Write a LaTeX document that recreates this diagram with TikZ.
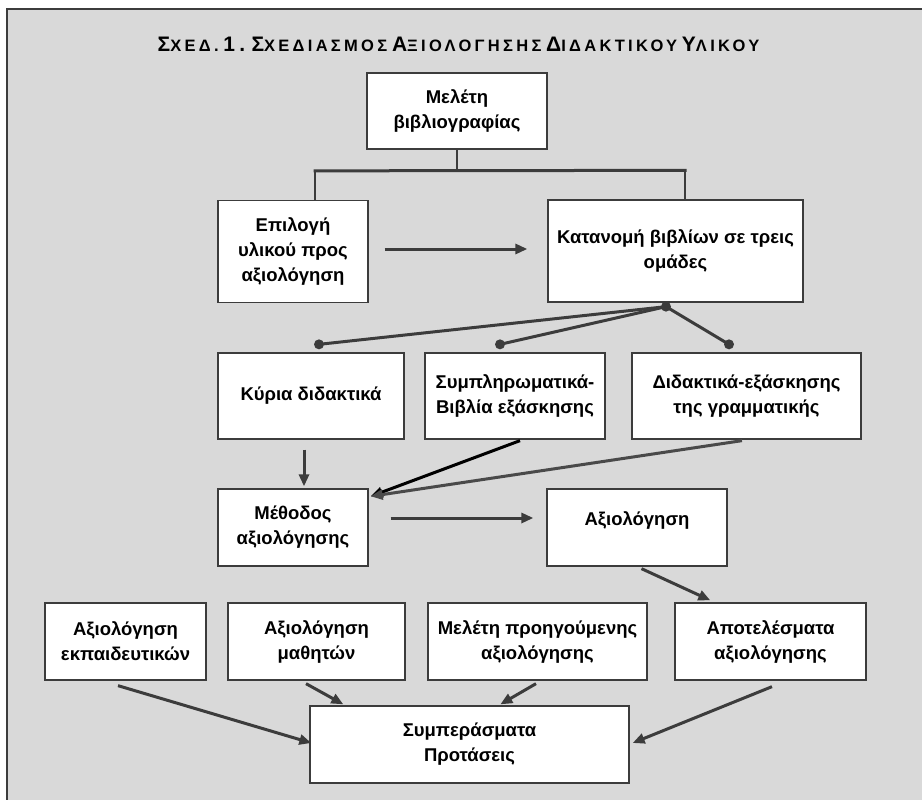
\documentclass[tikz,border=0pt]{standalone}
\usepackage{fontspec}
\setmainfont{Liberation Sans}
\newfontfamily\ttlfont[LetterSpace=20]{Liberation Sans}
\usetikzlibrary{arrows.meta,calc}
\definecolor{bg}{HTML}{D9D9D9}
\definecolor{ln}{HTML}{3C3C3C}
\definecolor{lngray}{HTML}{4A4A4A}
\newcommand\tbg[1]{{\fontsize{21}{21}\selectfont #1}}
\newcommand\tsm[1]{{\fontsize{16.5}{16.5}\selectfont #1}}
\tikzset{
  box/.style={draw=ln, line width=1.3pt, fill=white, inner sep=0pt, align=center,
    font=\fontsize{18.5}{25}\selectfont\bfseries},
  conn/.style={draw=ln, line width=3pt},
  arr/.style={conn, -{Triangle[length=12pt,width=10pt]}},
  dotnode/.style={circle, fill=ln, inner sep=0pt, minimum size=10pt},
}
\begin{document}
\begin{tikzpicture}[x=1pt,y=-1pt]
\useasboundingbox (0,0) rectangle (922,800);
\fill[white] (0,0) rectangle (922,800);
\fill[bg] (7,9) rectangle (922,800);
\draw[ln, line width=2pt] (7,800) -- (7,9) -- (922,9);

% title
\node[font=\ttlfont\bfseries, inner sep=0pt] (title) at (458.5,44)
  {\tbg{Σ}\tsm{ΧΕΔ.} \tbg{1.} \tbg{Σ}\tsm{ΧΕΔΙΑΣΜΟΣ} \tbg{Α}\tsm{ΞΙΟΛΟΓΗΣΗΣ} \tbg{Δ}\tsm{ΙΔΑΚΤΙΚΟΥ} \tbg{Υ}\tsm{ΛΙΚΟΥ}};

% boxes
\node[box, minimum width=180pt, minimum height=76pt] (mel) at (457,111) {Μελέτη\\βιβλιογραφίας};
\node[box, minimum width=150pt, minimum height=102pt] (epi) at (293,251.5) {Επιλογή\\υλικού προς\\αξιολόγηση};
\node[box, minimum width=255pt, minimum height=102pt] (kat) at (675.5,251) {Κατανομή βιβλίων σε τρεις\\ομάδες};
\node[box, minimum width=186pt, minimum height=86pt] (kyr) at (311,396) {Κύρια διδακτικά};
\node[box, minimum width=180pt, minimum height=86pt] (sym) at (515,396) {Συμπληρωματικά-\\Βιβλία εξάσκησης};
\node[box, minimum width=229pt, minimum height=86pt] (did) at (746.5,396) {Διδακτικά-εξάσκησης\\της γραμματικής};
\node[box, minimum width=150pt, minimum height=77pt] (met) at (293,527.5) {Μέθοδος\\αξιολόγησης};
\node[box, minimum width=180pt, minimum height=77pt] (axi) at (637,527.5) {\smash{\raisebox{2.5pt}{Αξιολόγηση}}};
\node[box, minimum width=161pt, minimum height=77pt] (ekp) at (125.5,641.5) {Αξιολόγηση\\εκπαιδευτικών};
\node[box, minimum width=177pt, minimum height=77pt] (mat) at (316.5,641.5) {Αξιολόγηση\\μαθητών};
\node[box, minimum width=219pt, minimum height=77pt] (mpr) at (537.5,641.5) {Μελέτη προηγούμενης\\αξιολόγησης};
\node[box, minimum width=191pt, minimum height=77pt] (apo) at (770.5,641.5) {Αποτελέσματα\\αξιολόγησης};
\node[box, minimum width=319pt, minimum height=77pt] (sum) at (469.5,744.5) {Συμπεράσματα\\Προτάσεις};

% top tree
\coordinate (tl) at ($(epi.north)+(22,-29)$);
\coordinate (tr) at ($(kat.north)+(9.5,-29)$);
\draw[ln, line width=1.8pt] (mel.south) -- (mel.south |- tl);
\draw[conn, line cap=rect] (tl) -- (tr);
\draw[ln, line width=2.5pt] (tl) -- (tl |- epi.north);
\draw[ln, line width=2.5pt] (tr) -- (tr |- kat.north);

% distribution with dots
\node[dotnode] (d0) at ($(kat.south)+(-9.5,4)$) {};
\node[dotnode] (d1) at ($(kyr.north)+(8,-8)$) {};
\node[dotnode] (d2) at ($(sym.north)+(-15,-8)$) {};
\node[dotnode] (d3) at ($(did.north)+(-17.5,-8)$) {};
\draw[conn] (d0.center) -- (d1.center);
\draw[conn] (d0.center) -- (d2.center);
\draw[conn] (d0.center) -- (d3.center);

% arrows
\draw[arr] ($(epi.east)+(16,-2.5)$) -- ($(kat.west)+(-20,-2)$);
\draw[arr] ($(kyr.south)+(-7,10)$) -- ($(met.north)+(11,-2)$);
\draw[arr, draw=black] ($(sym.south)+(5,1)$) -- ($(met.north east)+(2,8)$);
\draw[arr, draw=lngray] ($(did.south)+(-4.5,1)$) -- ($(met.north east)+(2,8)$);
\draw[arr] ($(met.east)+(22,-9.5)$) -- ($(axi.west)+(-13,-9.5)$);
\draw[arr] ($(axi.south)+(4.5,2)$) -- ($(apo.north west)+(36,-2)$);
\draw[arr] ($(ekp.south)+(-7.5,5)$) -- ($(sum.west)+(2,-1.5)$);
\draw[arr] ($(mat.south)+(-10.5,3)$) -- ($(sum.north west)+(34,-1)$);
\draw[arr] ($(mpr.south)+(-1.5,3)$) -- ($(sum.north west)+(191,-1)$);
\draw[arr] ($(apo.south)+(1.5,6)$) -- ($(sum.east)+(3,-1.5)$);
\end{tikzpicture}
\end{document}
